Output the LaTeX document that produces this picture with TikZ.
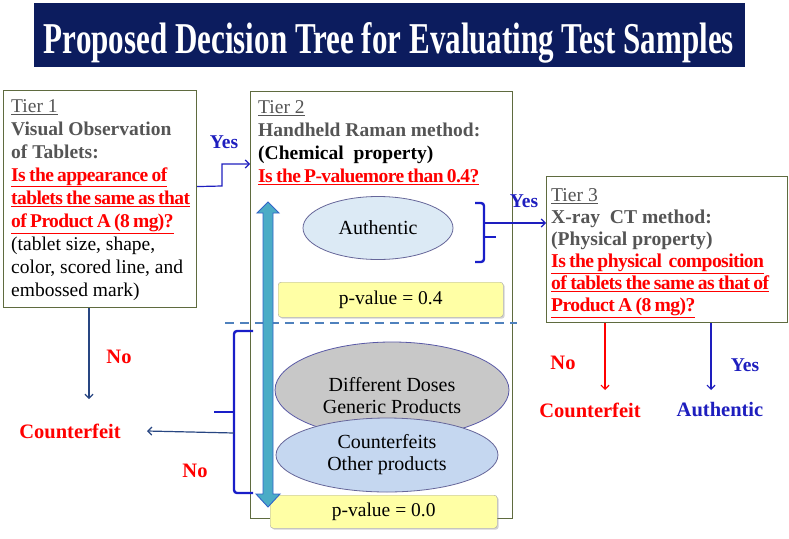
\documentclass[tikz,border=0pt]{standalone}
\usepackage{fontspec}
\setmainfont{Liberation Serif}
\usetikzlibrary{arrows.meta,shadows,shapes.geometric}
\definecolor{navy}{RGB}{12,28,94}
\definecolor{boxline}{RGB}{95,107,63}
\definecolor{headgray}{RGB}{85,85,85}
\definecolor{qred}{RGB}{255,0,0}
\definecolor{darrow}{RGB}{40,70,130}
\definecolor{braceblue}{RGB}{25,30,200}
\definecolor{yesblue}{RGB}{30,30,190}
\definecolor{arrowfill}{RGB}{75,172,198}
\definecolor{arrowline}{RGB}{50,100,200}
\definecolor{pyellow}{RGB}{255,255,165}
\definecolor{authfill}{RGB}{220,234,245}
\definecolor{grayfill}{RGB}{200,200,200}
\definecolor{cfill}{RGB}{197,215,240}
\definecolor{dashblue}{RGB}{79,129,189}
\newcommand{\redq}[1]{{\addfontfeature{LetterSpace=-3}\spaceskip=0.17em plus 0.05em\textcolor{qred}{\bfseries\underline{#1}}}}
\newcommand{\tiername}[1]{\textcolor{headgray}{\underline{#1}}}
\newcommand{\graybold}[1]{\textcolor{headgray}{\bfseries #1}}
\begin{document}
\begin{tikzpicture}[x=1pt,y=-1pt,
  tierbox/.style={draw=boxline,line width=1.1pt,fill=white,anchor=north west,inner sep=0pt},
  tiertext/.style={anchor=north west,align=left,inner sep=0pt,font=\fontsize{19.5}{23}\selectfont},
  pbox/.style={draw=gray!70,fill=pyellow,rounded corners=3pt,anchor=north west,inner sep=0pt,
    drop shadow={opacity=0.35,shadow xshift=1.5pt,shadow yshift=-1.5pt},
    font=\fontsize{19.5}{22}\selectfont},
  ell/.style={ellipse,draw=gray!80!blue,line width=0.8pt,inner sep=0pt,align=center,
    font=\fontsize{20}{22}\selectfont},
  elltext/.style={inner sep=0pt,align=center,font=\fontsize{20}{22}\selectfont},
  lbl/.style={font=\bfseries\fontsize{20.5}{22}\selectfont},
  yeslbl/.style={font=\bfseries\fontsize{19.5}{22}\selectfont,text=yesblue},
  thin arrow/.style={line width=1.2pt,-{Straight Barb[length=4pt,width=8pt]}},
  bracel/.style={line width=2.4pt,color=braceblue,rounded corners=3pt}
]
\useasboundingbox (0,0) rectangle (789,538);
% title
\node[fill=navy,minimum width=711pt,minimum height=64pt,inner sep=0pt,anchor=north west] (titlebar) at (34,3) {};
\node[text=white,anchor=base,inner sep=0pt] (title) at (389,53)
  {\resizebox{690pt}{31pt}{\bfseries Proposed Decision Tree for Evaluating Test Samples}};

% Tier 1
\node[tierbox,minimum width=193pt,minimum height=217pt] (t1) at (3,90) {};
\node[tiertext] (t1text) at (11,99) {%
\tiername{Tier 1}\\
\graybold{Visual Observation}\\
\graybold{of Tablets:}\\
\redq{Is the appearance of}\\
\redq{tablets the same as that}\\
\redq{of Product A (8 mg)?}\\
(tablet size, shape,\\
color, scored line, and\\
embossed mark)};

% Tier 2
\node[tierbox,minimum width=262pt,minimum height=427pt] (t2) at (250,91) {};
\node[tiertext] (t2text) at (258,100) {%
\tiername{Tier 2}\\
\graybold{Handheld Raman method:}\\
{\bfseries (Chemical\ \ property)}\\
\redq{Is the P-valuemore than 0.4?}};

% Tier 3
\node[tierbox,minimum width=241pt,minimum height=146pt] (t3) at (546,176) {};
\node[tiertext,font=\fontsize{19.6}{22}\selectfont] (t3text) at (551,188) {%
\tiername{Tier 3}\\
\graybold{X-ray\ \ CT method:}\\
\graybold{(Physical property)}\\
\redq{Is the physical\ \ composition}\\
\redq{of tablets the same as that of}\\
\redq{Product A (8 mg)?}};

% ellipses
\node[ell,fill=authfill,minimum width=150pt,minimum height=63pt] (auth) at (378,228) {Authentic};
\node[ell,fill=grayfill,draw=gray!70!blue,minimum width=234pt,minimum height=96pt] (diff) at (392,390) {};
\node[elltext] (difftext) at (392,396) {Different Doses\\Generic Products};
\node[ell,fill=cfill,minimum width=222pt,minimum height=74pt] (cfeit) at (387,455) {};
\node[elltext] (cfeittext) at (387,455) {Counterfeits\\Other products};

% p-value boxes
\node[pbox,minimum width=225pt,minimum height=35pt] (p04) at (278,282) {p-value = 0.4};
\node[pbox,minimum width=227pt,minimum height=33pt] (p00) at (270,495) {p-value = 0.0};

% dashed separator
\coordinate (dashL) at (225,323);
\coordinate (dashR) at (517,323);
\draw[dashblue,line width=2pt,dash pattern=on 9pt off 6pt] (dashL) -- (dashR);

% big double arrow
\draw[fill=arrowfill,draw=arrowline,line width=0.9pt,line join=miter]
  (268,202) -- (279,213) -- (273,213) -- (273,494) -- (280,494) -- (268,507)
  -- (256,494) -- (263,494) -- (263,213) -- (257,213) -- cycle;

% right brace (authentic)
\coordinate (rbtop) at (475,203);
\coordinate (rbbot) at (475,262);
\coordinate (rbtip) at (496,237);
\coordinate (rbout) at (485,223);
\draw[bracel] (rbtop) -- (484,203) -- (484,262) -- (rbbot);
\draw[bracel] (484,237) -- (rbtip);

% left brace (counterfeit region)
\coordinate (lbtop) at (253,331);
\coordinate (lbbot) at (253,493);
\coordinate (lbtip) at (214,412);
\coordinate (lbout) at (234,433);
\draw[bracel] (lbtop) -- (234,331) -- (234,493) -- (lbbot);
\draw[bracel] (234,412) -- (lbtip);

% outcome labels
\node[lbl,text=qred] (cf1) at (70,431) {Counterfeit};
\node[lbl,text=qred] (cf3) at (590,410) {Counterfeit};
\node[lbl,text=yesblue] (au3) at (720,410) {Authentic};

% connectors
\draw[thin arrow,yesblue] ([yshift=12.5pt]t1.east) -- (222,186) |- ([yshift=-73pt]t2.north west);
\node[yeslbl] (yes1) at (224,142) {Yes};

\draw[thin arrow,darrow] (t1.south -| 89,0) -- (89,399);
\node[lbl,text=qred] (no1) at (119,357) {No};

\draw[thin arrow,darrow] (lbout) -- (cf1.east -| 147,0);
\node[lbl,text=qred] (no2) at (195,471) {No};

\draw[thin arrow,yesblue] (rbout) -- (t3.west |- rbout);
\node[yeslbl] (yes2) at (524,201) {Yes};

\draw[thin arrow,qred] (t3.south -| 605,0) -- (605,390);
\node[lbl,text=qred] (no3) at (563,363) {No};
\draw[thin arrow,yesblue] (t3.south -| 711,0) -- (711,390);
\node[yeslbl] (yes3) at (745,365) {Yes};
\end{tikzpicture}
\end{document}
